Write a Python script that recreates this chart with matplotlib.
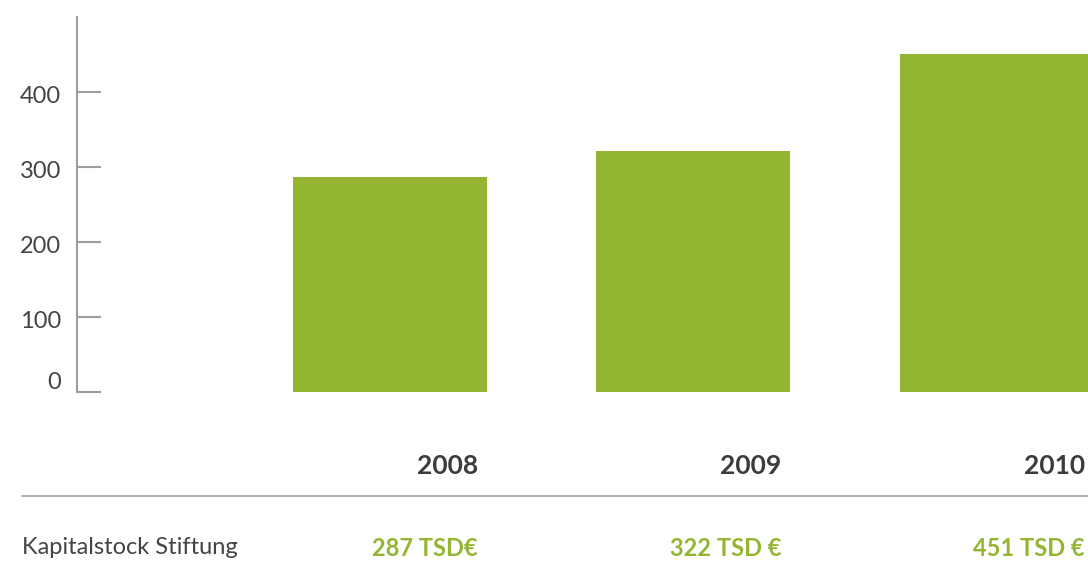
import matplotlib
matplotlib.use("Agg")
import matplotlib.pyplot as plt
import matplotlib.transforms as mtransforms

years = ["2008", "2009", "2010"]
values = [287, 322, 451]
value_labels = ["287 TSD€", "322 TSD €", "451 TSD €"]
row_label = "Kapitalstock Stiftung"
yticks = [0, 100, 200, 300, 400]

BAR = "#93b531"
GRAY = "#9e9e9e"
TEXT = "#444444"

W, H = 1088, 561
fig = plt.figure(figsize=(W / 100, H / 100), dpi=100)
ax = fig.add_axes([77 / W, (H - 392) / H, (W - 77) / W, (392 - 17) / H])

x = list(range(len(years)))
ax.bar(x, values, width=0.639, color=BAR, zorder=2)
ax.set_xlim(-1.031, 2.300)
ax.set_ylim(0, 500)

for s in ["top", "right", "bottom"]:
    ax.spines[s].set_visible(False)
ax.spines["left"].set_color(GRAY)
ax.spines["left"].set_linewidth(1.5)
ax.set_xticks([])
ax.set_yticks(yticks)
ax.set_yticklabels([])
ax.tick_params(axis="y", direction="in", length=17, width=1.5, color=GRAY)

ytrans = mtransforms.blended_transform_factory(fig.transFigure, ax.transData)
for v in yticks:
    off = 9.5 if v == 0 else -4.5
    t = mtransforms.offset_copy(ytrans, fig=fig, x=0, y=off, units="dots")
    ax.text(61 / W, v, str(v), transform=t, ha="right", va="center",
            fontsize=17, color=TEXT, family="Lato", clip_on=False)

trans = mtransforms.blended_transform_factory(ax.transData, fig.transFigure)
off = 0.29
for i, (yr, vl) in enumerate(zip(years, value_labels)):
    fig.text(i + off, 1 - 466 / H, yr, transform=trans, ha="right", va="center",
             fontsize=19, fontweight="bold", color="#3c3c3c", family="Lato")
    fig.text(i + off, 1 - 548 / H, vl, transform=trans, ha="right", va="center",
             fontsize=17, fontweight="bold", color=BAR, family="Lato")

fig.text(22 / W, 1 - 548 / H, row_label, ha="left", va="center", fontsize=17,
         color=TEXT, family="Lato")
fig.add_artist(plt.Line2D([22 / W, 1], [1 - 496 / H] * 2, transform=fig.transFigure,
                          color="#aaaaaa", lw=1.3))

fig.savefig("out.png", dpi=100)
